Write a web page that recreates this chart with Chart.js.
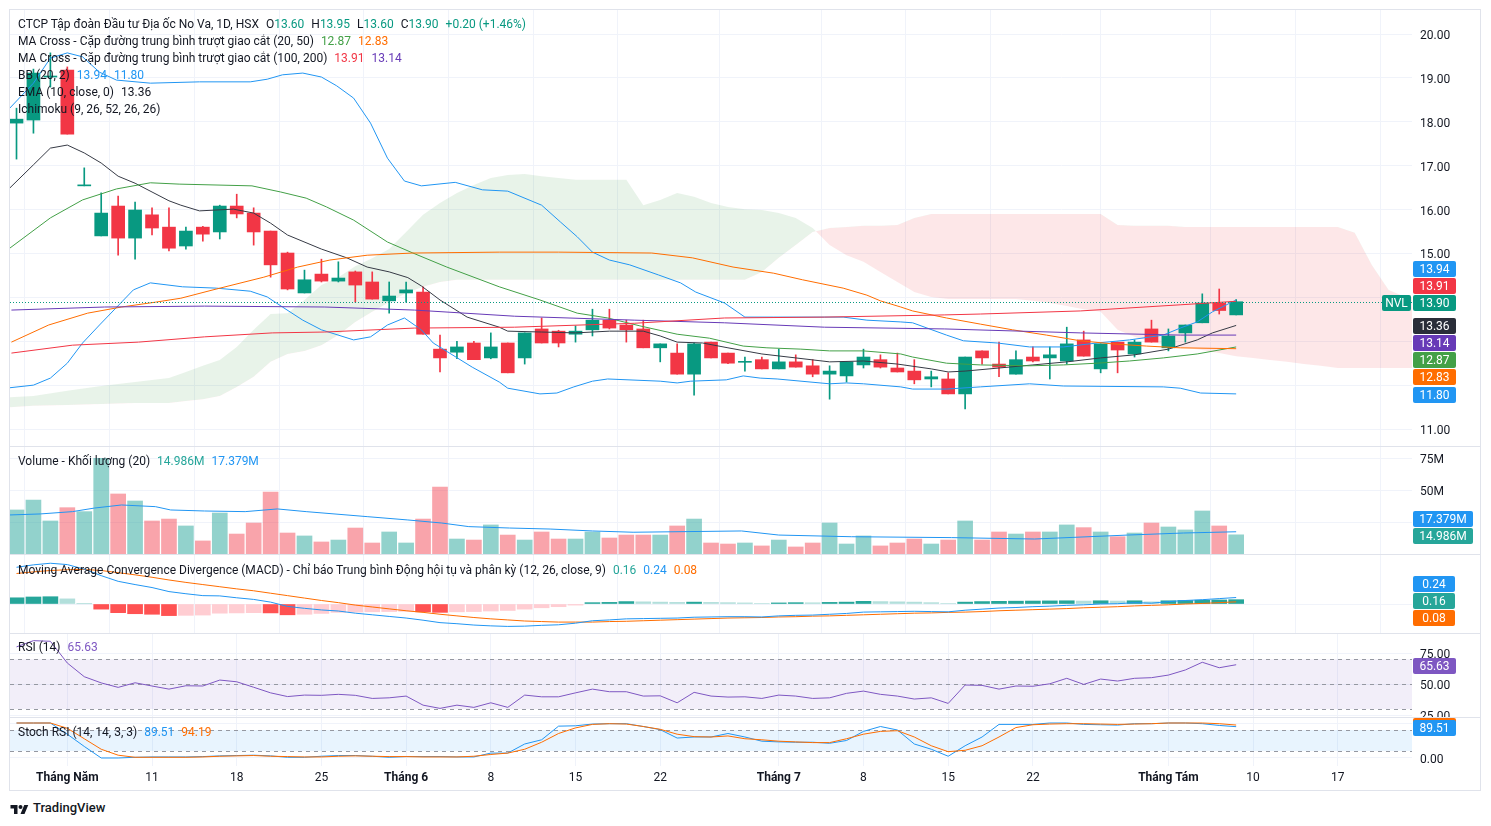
<!DOCTYPE html>
<html lang="vi"><head><meta charset="utf-8"><title>NVL 1D</title>
<script src="https://cdn.jsdelivr.net/npm/chart.js@4.4.1/dist/chart.umd.min.js"></script>
<style>
html,body{margin:0;padding:0;background:#fff}
#root{position:relative;width:1491px;height:826px;overflow:hidden;font-family:Roboto,"Liberation Sans",sans-serif;color:#131722}
#root canvas{position:absolute;left:10px}
.sep{position:absolute;left:10px;width:1471px;height:1px;background:#E0E3EB}
.lg{position:absolute;left:18px;font-size:12px;line-height:16px;white-space:nowrap;color:#131722}
.lg i{font-style:normal;margin-left:7px}
</style></head><body>
<div id="root">
 <div style="position:absolute;left:9px;top:9px;width:1470px;height:780px;border:1px solid #E0E3EB"></div>
 <div class="sep" style="top:446px"></div>
 <div class="sep" style="top:554px"></div>
 <div class="sep" style="top:633px"></div>
 <div class="sep" style="top:717px"></div>
 <canvas id="cMain" width="1471" height="436" style="top:10px"></canvas>
 <canvas id="cVol" width="1471" height="107" style="top:447px"></canvas>
 <canvas id="cMacd" width="1471" height="78" style="top:555px"></canvas>
 <canvas id="cRsi" width="1471" height="83" style="top:634px"></canvas>
 <canvas id="cStoch" width="1471" height="73" style="top:718px"></canvas>
 <svg style="position:absolute;left:10px;top:803px" width="19" height="12" viewBox="0 0 36 24"><path d="M14 22H7V11H0V4h14v18zM28 22h-8l7.5-18h8L28 22z" fill="#131722"/><circle cx="20" cy="8" r="4" fill="#131722"/></svg>
 <div style="position:absolute;left:33px;top:800px;font-size:13px;line-height:16px;font-weight:500;color:#131722">TradingView</div>
</div>
<script>
// ---------- DATA ----------
const tickIndex = [3,8,13,18,23,28,33,38,45,50,55,60,68,73,78];
const tickText  = ['Tháng Năm','11','18','25','Tháng 6','8','15','22','Tháng 7','8','15','22','Tháng Tám','10','17'];
const monthTick = [true,false,false,false,true,false,false,false,true,false,false,false,true,false,false];

const open = [17.97,18.04,19.02,19.18,16.54,15.40,16.08,15.35,15.88,15.60,
  15.17,15.60,15.49,16.08,15.92,15.51,15.01,14.10,14.53,14.37,
  14.58,14.35,13.92,14.10,14.12,12.82,12.75,12.96,12.62,12.96,
  12.62,13.28,13.23,13.16,13.26,13.48,13.37,13.28,12.85,12.73,
  12.25,12.98,12.73,12.52,12.58,12.37,12.53,12.44,12.25,12.21,
  12.46,12.58,12.39,12.32,12.14,12.14,11.80,12.78,12.48,12.25,
  12.64,12.62,12.55,13.03,12.37,12.98,12.71,13.28,12.85,13.19,
  13.42,13.87,13.60];
const high = [18.31,19.20,19.57,19.25,16.95,16.38,16.31,16.17,16.04,16.04,
  15.60,15.62,16.10,16.35,16.04,15.51,15.03,14.62,14.87,14.81,
  14.60,14.58,14.35,14.35,14.24,13.14,13.00,13.00,13.19,12.96,
  13.19,13.53,13.25,13.35,13.73,13.73,13.48,13.48,12.94,12.94,
  12.96,12.98,12.73,12.64,12.64,12.82,12.69,12.58,12.44,12.53,
  12.82,12.69,12.73,12.58,12.32,12.28,12.64,12.78,12.98,12.78,
  12.87,12.87,13.32,13.23,12.94,12.98,13.03,13.48,13.28,13.37,
  14.08,14.19,13.95];
const low = [17.15,17.74,18.79,17.72,16.54,15.40,14.96,14.87,15.42,15.06,
  15.10,15.28,15.33,15.81,15.19,14.46,14.17,14.10,14.35,14.35,
  13.89,13.96,13.64,13.89,13.16,12.30,12.60,12.58,12.60,12.28,
  12.48,12.96,12.87,12.98,13.12,13.28,12.98,12.85,12.53,12.25,
  11.77,12.62,12.49,12.32,12.37,12.37,12.41,12.19,11.68,12.07,
  12.39,12.39,12.30,12.03,11.96,11.80,11.46,12.48,12.19,12.25,
  12.53,12.14,12.48,12.66,12.28,12.28,12.64,12.98,12.78,12.98,
  13.42,13.62,13.60];
const close = [18.06,19.11,19.04,17.72,16.56,15.92,15.35,15.99,15.58,15.12,
  15.51,15.44,16.08,15.90,15.49,14.74,14.19,14.40,14.37,14.44,
  14.28,13.96,14.03,14.17,13.16,12.62,12.87,12.58,12.87,12.28,
  13.19,12.96,12.96,13.23,13.48,13.30,13.26,12.85,12.94,12.25,
  12.94,12.62,12.50,12.53,12.37,12.53,12.41,12.25,12.32,12.53,
  12.64,12.41,12.30,12.12,12.19,11.80,12.64,12.62,12.41,12.58,
  12.55,12.69,12.94,12.66,12.94,12.80,12.98,12.98,13.12,13.37,
  13.87,13.70,13.90];
const volume = [34.4,42.2,25.8,36.2,33.1,74.7,46.9,41.4,25.8,27.3,
  21.9,10.2,32.0,15.6,24.2,48.4,16.4,14.1,9.4,10.9,
  20.3,8.6,17.2,8.6,27.3,52.3,11.7,10.9,22.7,14.8,
  10.9,17.2,11.7,11.7,17.2,12.5,14.8,14.8,14.8,21.9,
  27.3,8.6,7.8,8.6,6.3,10.9,5.5,8.6,24.2,7.8,
  14.1,6.3,8.6,11.7,7.8,10.9,25.8,10.9,17.2,15.6,
  17.2,17.2,22.7,20.6,17.2,13.5,16.4,24.2,21.1,18.8,
  33.6,21.9,14.986];
const volMa = [[-0.4,30.5],[1.4,31.3],[3.3,33.1],[4.6,35.9],[6.2,38.3],[8.2,37.0],[9.1,34.4],[11.1,33.6],[13.5,33.1],[15.4,35.2],[17.1,33.1],[20.7,29.2],[23.1,26.6],[25.1,24.2],[26.7,21.4],[29.1,20.3],[31.5,19.5],[34,18.0],[36.4,17.0],[42.8,18.0],[45,14.8],[49.3,13.5],[55.2,12.8],[60.1,11.7],[65.6,14.8],[68.9,16.4],[72,17.379]];

const ema10 = [[-0.4,16.49],[1,17.02],[2,17.40],[3,17.47],[4,17.29],[5,17.06],[6,16.76],[7,16.60],[8,16.40],[9,16.20],[9.7,16.10],[10.8,15.97],[12.8,16.01],[14,15.92],[15,15.69],[16,15.42],[18,15.10],[19.5,14.90],[20.7,14.69],[22,14.58],[23.1,14.45],[23.9,14.26],[25,13.94],[26.6,13.55],[28.5,13.32],[29,13.23],[31,13.21],[33,13.19],[35,13.23],[37,13.23],[38,13.12],[39,12.98],[40.5,12.96],[42,12.85],[44,12.71],[46,12.62],[48,12.53],[50,12.55],[52,12.48],[54,12.37],[55,12.30],[56,12.32],[58,12.39],[60,12.46],[62,12.53],[64,12.62],[66,12.69],[68,12.82],[69.7,13.03],[70.6,13.19],[72,13.36]];
const bbUpper = [[-0.4,18.31],[1,18.88],[2,19.45],[3,19.57],[3.9,19.48],[4.9,19.13],[5.9,18.95],[7.9,18.88],[10.8,18.91],[13.8,18.91],[14.8,18.97],[15.7,19.07],[16.9,19.11],[18,19.02],[18.9,18.82],[19.9,18.54],[20.9,17.97],[21.9,17.17],[22.9,16.65],[23.9,16.54],[25.9,16.62],[27.5,16.45],[29,16.42],[31,16.10],[32.1,15.72],[33.1,15.38],[34,15.03],[35,14.85],[36.2,14.74],[37.9,14.51],[39.2,14.33],[40.1,14.12],[41.8,13.87],[43,13.55],[44.7,13.55],[48.8,13.55],[50.2,13.48],[52.2,13.44],[52.9,13.42],[54.9,13.14],[55.9,13.01],[57.9,12.96],[59.8,12.87],[61.8,12.87],[63.8,12.96],[65.7,13.03],[67.7,13.14],[68.7,13.30],[69.7,13.44],[70.6,13.67],[72,13.94]];
const bbLower = [[-0.4,11.94],[1,12.00],[2,12.16],[3,12.50],[3.9,12.96],[4.9,13.37],[6.9,14.17],[7.9,14.33],[9.8,14.24],[11.8,14.21],[13.8,14.14],[14.8,14.01],[15.7,13.78],[16.9,13.48],[18,13.26],[19.9,13.03],[20.9,13.10],[21.9,13.37],[22.9,13.53],[23.9,13.26],[24.6,12.96],[26.9,12.41],[28.5,12.07],[29,11.93],[30.9,11.80],[31.9,11.82],[32.9,11.96],[34,12.09],[34.9,12.14],[38,12.09],[39,12.05],[39.8,12.09],[41.9,12.12],[42.9,12.21],[43.9,12.16],[44.9,12.14],[48,12.03],[49,12.05],[50,12.03],[52.2,11.96],[52.9,11.91],[54.9,11.91],[56.9,11.96],[59.8,12.03],[61.8,11.98],[67.7,11.96],[68.7,11.93],[69.9,11.82],[72,11.80]];
const ma20 = [[-0.4,15.12],[2,15.81],[3.9,16.22],[5.9,16.47],[7.9,16.61],[9.6,16.58],[13.9,16.54],[15.6,16.40],[17.1,16.26],[18.3,16.06],[19.9,15.76],[21.9,15.26],[23.4,15.01],[25.4,14.69],[28.5,14.24],[30.9,13.94],[33.1,13.64],[34.9,13.53],[36.8,13.35],[39,13.16],[40.9,13.07],[42.9,12.89],[44.3,12.85],[46.3,12.82],[48,12.78],[50,12.78],[52.2,12.71],[52.9,12.64],[54.9,12.50],[56.9,12.46],[59.8,12.44],[61.8,12.46],[63.8,12.50],[65.7,12.55],[67.7,12.62],[69.7,12.71],[72,12.87]];
const ma50 = [[-0.3,12.98],[1.9,13.37],[4.2,13.64],[6.2,13.78],[8.2,13.89],[9.7,13.98],[11.6,14.17],[14.6,14.46],[16.6,14.69],[18.5,14.85],[20.7,14.96],[23.4,15.01],[28.5,15.03],[32,15.03],[37.5,15.01],[39.9,14.90],[42.3,14.69],[44.7,14.55],[46.4,14.40],[48.8,14.21],[50.2,14.05],[51,13.92],[52.2,13.78],[52.9,13.69],[54.9,13.53],[56.9,13.39],[58.8,13.26],[60.8,13.14],[62.8,13.01],[64.7,12.94],[66.7,12.89],[68.7,12.85],[72,12.83]];
const ma100 = [[-0.3,12.73],[3.3,12.91],[7.2,12.98],[11.1,13.10],[15.1,13.19],[18.2,13.21],[23.5,13.30],[29.4,13.32],[36.5,13.41],[41.8,13.53],[47.7,13.55],[54.8,13.60],[56.9,13.62],[62.8,13.69],[68.7,13.83],[72,13.91]];
const ma200 = [[-0.3,13.71],[5.2,13.78],[11.1,13.80],[18.2,13.78],[23.5,13.71],[29.4,13.57],[36.5,13.48],[41.8,13.42],[47.7,13.32],[54.8,13.28],[62.8,13.19],[68.7,13.14],[72,13.14]];

const cloudIdx = [-1,1,3,5,7,9,10,11,12,13,14,15,16,17,18,19,20,21,22,23,24,25,26,27,28,29,30,31,32,33,34,35,36,37,38,39,40,41,42,43,44,45,46,47,48,49,50,51,52,53,54,55,56,57,58,59,60,61,62,63,64,65,66,67,68,69,70,71,72,73,74,75,76,77,78,79,80,81,82,83];
const spanA = [11.71,11.75,11.87,11.98,12.07,12.16,
  12.30,12.44,12.57,12.87,13.26,13.62,13.64,13.94,14.28,14.46,
  14.71,14.89,15.10,15.49,15.88,16.15,16.38,16.56,16.72,16.79,
  16.81,16.76,16.72,16.68,16.68,16.68,16.68,16.10,16.22,16.38,
  16.29,16.15,16.06,16.01,15.99,15.92,15.81,15.58,15.19,14.96,
  14.81,14.58,14.35,14.12,14.01,13.96,13.96,13.96,13.96,13.96,
  13.92,13.87,13.80,13.73,13.67,13.26,13.10,12.98,12.91,12.85,
  12.80,12.73,12.66,12.62,12.57,12.53,12.48,12.44,12.39,12.39,
  12.39,12.39,12.39,12.39];
const spanB = [11.48,11.53,11.55,11.57,11.59,11.59,
  11.64,11.68,11.75,11.96,12.19,12.53,12.71,12.78,12.91,13.14,
  13.44,13.67,13.89,14.10,14.24,14.35,14.40,14.40,14.40,14.40,
  14.40,14.40,14.40,14.40,14.40,14.40,14.40,14.40,14.40,14.40,
  14.40,14.40,14.40,14.40,14.58,14.90,15.19,15.49,15.58,15.60,
  15.63,15.63,15.65,15.81,15.90,15.90,15.90,15.90,15.90,15.90,
  15.90,15.90,15.90,15.90,15.90,15.65,15.63,15.63,15.63,15.60,
  15.60,15.60,15.60,15.60,15.60,15.60,15.60,15.60,15.60,15.47,
  14.74,14.17,14.01,13.96];

const macd = [1.36,1.45,1.51,1.46,1.29,1.05,0.84,0.72,0.61,0.46,
  0.38,0.31,0.30,0.23,0.17,0.07,-0.09,-0.16,-0.22,-0.26,
  -0.34,-0.40,-0.46,-0.52,-0.60,-0.69,-0.73,-0.78,-0.81,-0.83,
  -0.82,-0.79,-0.77,-0.71,-0.62,-0.59,-0.55,-0.54,-0.53,-0.52,
  -0.49,-0.48,-0.47,-0.47,-0.48,-0.44,-0.42,-0.41,-0.38,-0.35,
  -0.30,-0.29,-0.28,-0.27,-0.28,-0.29,-0.23,-0.19,-0.15,-0.13,
  -0.10,-0.08,-0.05,-0.03,0.00,0.01,0.05,0.03,0.09,0.13,
  0.16,0.20,0.24];
const signal = [1.13,1.19,1.24,1.27,1.28,1.24,1.16,1.08,0.99,0.89,
  0.80,0.72,0.64,0.56,0.49,0.40,0.31,0.22,0.13,0.05,
  -0.04,-0.11,-0.18,-0.25,-0.31,-0.38,-0.44,-0.50,-0.55,-0.59,
  -0.63,-0.65,-0.67,-0.67,-0.67,-0.65,-0.64,-0.62,-0.60,-0.58,
  -0.56,-0.54,-0.52,-0.51,-0.50,-0.48,-0.47,-0.45,-0.44,-0.42,
  -0.40,-0.38,-0.36,-0.34,-0.33,-0.31,-0.30,-0.28,-0.25,-0.23,
  -0.21,-0.19,-0.17,-0.14,-0.12,-0.10,-0.07,-0.05,-0.03,0.00,
  0.02,0.05,0.08];
const hist = [0.23,0.26,0.27,0.19,0.01,-0.19,-0.32,-0.36,-0.38,-0.43,
  -0.42,-0.41,-0.34,-0.33,-0.32,-0.33,-0.40,-0.38,-0.35,-0.31,
  -0.30,-0.29,-0.28,-0.27,-0.29,-0.31,-0.29,-0.28,-0.26,-0.24,
  -0.19,-0.14,-0.10,-0.04,0.05,0.06,0.09,0.08,0.07,0.06,
  0.07,0.06,0.05,0.04,0.02,0.04,0.05,0.045,0.06,0.07,
  0.10,0.09,0.08,0.07,0.05,0.02,0.07,0.09,0.10,0.105,
  0.11,0.115,0.12,0.11,0.12,0.11,0.12,0.08,0.12,0.13,
  0.14,0.15,0.16];
const rsi = [80,85,84.5,67,56,51,47.4,51.1,48.5,46.0,
  48.7,48.5,53.3,51.9,47.5,43.0,40.0,41.2,41.0,41.8,
  41.0,38.5,39.0,40.4,33.1,30.5,33.1,31.3,35.0,31.3,
  41.2,39.8,39.8,43.0,46.0,43.9,43.9,40.4,40.6,35.0,
  43.4,40.4,39.6,39.8,38.5,41.2,40.4,38.5,39.0,42.6,
  44.4,41.8,40.4,38.0,39.0,34.5,49.3,49.0,46.0,48.5,
  48.3,50.3,54.7,49.8,54.1,52.5,54.7,55.2,57.3,61.4,
  67.6,63.2,65.63];
const stochK = [100,100,100,68,33,0,0,2,3,3,
  3,4,6,7,8,6,2,2,5,7,
  7,5,2,4,4,4,3,3,14,14,
  40,52,91,92,97,98,98,90,81,57,
  60,60,70,60,48,46,45,45,42,50,
  76,90,80,40,25,5,35,60,96,96,
  96,100,100,96,95,94,98,98,100,100,
  98,93,89.51];
const stochD = [100,100,100,85,55,25,8,2,2,2,
  2,3,5,6,7,5,4,3,3,5,
  6,5,4,4,3,3,3,5,10,14,
  25,45,70,86,96,98,97,90,82,68,
  61,60,63,55,52,48,46,44,44,55,
  68,76,78,60,35,18,22,35,60,87,
  95,97,98,98,97,96,97,98,100,100,
  100,98,94.19];

const priceTicks = [11,12,13,14,15,16,17,18,19,20];
const hiddenPriceTicks = [12,13,14];
const volTicks = [25,50,75];
const rsiTicks = [25,50,75];
const rsiLevels = [30,50,70];
const stochLevels = [20,80];

// ---------- STYLE / HELPERS ----------
const UP = '#089981', DOWN = '#F23645';
const FONT = 'Roboto, "Liberation Sans", sans-serif';
Chart.defaults.font.family = FONT;
Chart.defaults.font.size = 12;
Chart.defaults.color = '#131722';
const GRID = '#F0F3FA';
const X_MIN = -0.384, X_MAX = 82.38;
const L = close.length - 1;
const idx = close.map((_, i) => i);
const isUp = idx.map(i => close[i] >= open[i]);
const lastOf = a => a[a.length - 1][1];
const pairs = a => a.map(([x, y]) => ({x, y}));
const series = a => a.map((y, i) => ({x: i, y}));

function xScale(show) {
  return {
    type: 'linear', min: X_MIN, max: X_MAX, offset: false,
    grid: {color: GRID, drawTicks: false},
    border: {display: false},
    afterBuildTicks: s => { s.ticks = tickIndex.map(v => ({value: v})); },
    ticks: {display: show, autoSkip: false, maxRotation: 0, padding: 5, color: '#131722',
      font: c => ({family: FONT, size: 12, weight: monthTick[c.index] ? 'bold' : 'normal'}),
      callback: (v, k) => tickText[k]},
    afterFit: s => { s.height = show ? 25 : 0; s.paddingLeft = 0; s.paddingRight = 0; }
  };
}
function yScale(min, max, ticks, fmt) {
  return {
    position: 'right', min, max,
    afterBuildTicks: s => { s.ticks = ticks.map(v => ({value: v})); },
    grid: {color: GRID, drawTicks: false},
    border: {display: false},
    ticks: {padding: 8, labelOffset: 2, color: '#131722', font: {size: 12}, callback: fmt},
    afterFit: s => { s.width = 69; s.paddingTop = 0; s.paddingBottom = 0; }
  };
}
function baseOpts(y, showX) {
  return {
    responsive: false, animation: false, events: [],
    layout: {padding: 0},
    plugins: {legend: {display: false}, tooltip: {enabled: false}},
    scales: {x: xScale(showX), y}
  };
}
function lineDs(data, color, w) {
  return {type: 'line', data, borderColor: color, borderWidth: w || 1, pointRadius: 0,
    pointHoverRadius: 0, fill: false, tension: 0, order: 5};
}
function rr(ctx, x, y, w, h, r) {
  ctx.beginPath();
  if (ctx.roundRect) ctx.roundRect(x, y, w, h, r); else ctx.rect(x, y, w, h);
}
function boxes(items, noResolve) {
  return {id: 'boxes', afterDraw(chart) {
    const {ctx, chartArea: a, scales: {y}} = chart;
    const list = items.map(it => Object.assign({}, it, {py: y.getPixelForValue(it.value)}));
    if (!noResolve) {
      const s = list.slice().sort((p, q) => p.py - q.py);
      let ai = s.findIndex(it => it.anchor); if (ai < 0) ai = 0;
      s[ai].y = s[ai].py;
      for (let k = ai - 1; k >= 0; k--) s[k].y = Math.min(s[k].py, s[k + 1].y - 17);
      for (let k = ai + 1; k < s.length; k++) s[k].y = Math.max(s[k].py, s[k - 1].y + 17);
    } else list.forEach(it => { it.y = it.py; });
    ctx.save();
    ctx.font = '12px ' + FONT; ctx.textBaseline = 'middle'; ctx.textAlign = 'center';
    for (const it of list) {
      const w = Math.max(42, Math.ceil(ctx.measureText(it.text).width) + 12);
      const x0 = a.right + 1, yc = Math.round(it.y) + 1;
      ctx.fillStyle = it.color; rr(ctx, x0, yc - 8, w, 16, 2); ctx.fill();
      ctx.fillStyle = '#fff'; ctx.fillText(it.text, x0 + w / 2, yc + 1);
      if (it.tag) {
        const tw = 29;
        ctx.fillStyle = it.color; rr(ctx, a.right - tw - 1, yc - 8, tw, 16, 2); ctx.fill();
        ctx.fillStyle = '#fff'; ctx.fillText(it.tag, a.right - 1 - tw / 2, yc + 1);
      }
    }
    ctx.restore();
  }};
}
function bands(levels, fill) {
  return {id: 'bands', beforeDatasetsDraw(chart) {
    const {ctx, chartArea: a, scales: {y}} = chart;
    const lo = Math.min(...levels), hi = Math.max(...levels);
    const y1 = y.getPixelForValue(hi), y2 = y.getPixelForValue(lo);
    ctx.save();
    ctx.fillStyle = fill; ctx.fillRect(a.left, y1, a.right - a.left, y2 - y1);
    ctx.strokeStyle = '#9598A1'; ctx.lineWidth = 1; ctx.setLineDash([4, 4]);
    levels.forEach(v => {
      const p = Math.round(y.getPixelForValue(v)) + 0.5;
      ctx.beginPath(); ctx.moveTo(a.left, p); ctx.lineTo(a.right, p); ctx.stroke();
    });
    ctx.restore();
  }};
}
const closeLine = {id: 'closeLine', afterDatasetsDraw(chart) {
  const {ctx, chartArea: a, scales: {y}} = chart;
  const p = Math.round(y.getPixelForValue(close[L])) + 0.5;
  ctx.save(); ctx.strokeStyle = UP; ctx.lineWidth = 1; ctx.setLineDash([1, 2]);
  ctx.beginPath(); ctx.moveTo(a.left, p); ctx.lineTo(a.right, p); ctx.stroke(); ctx.restore();
}};

// ---------- MAIN PRICE PANE ----------
const candleColor = idx.map(i => isUp[i] ? UP : DOWN);
new Chart(document.getElementById('cMain'), {
  type: 'bar',
  data: {datasets: [
    {type: 'line', data: cloudIdx.map((x, k) => ({x, y: spanA[k]})), borderColor: 'transparent', borderWidth: 0,
     pointRadius: 0, tension: 0, fill: {target: 1, above: 'rgba(67,160,71,0.12)', below: 'rgba(242,54,69,0.12)'}, order: 30},
    {type: 'line', data: cloudIdx.map((x, k) => ({x, y: spanB[k]})), borderColor: 'transparent', borderWidth: 0,
     pointRadius: 0, tension: 0, fill: false, order: 30},
    {type: 'bar', data: idx.map(i => ({x: i, y: [low[i], high[i]]})), backgroundColor: candleColor,
     barThickness: 1, grouped: false, order: 20},
    {type: 'bar', data: idx.map(i => ({x: i, y: [open[i], close[i]]})), backgroundColor: candleColor,
     barThickness: 13, minBarLength: 1, grouped: false, order: 19},
    lineDs(pairs(ma100), '#F23645'),
    lineDs(pairs(ma200), '#673AB7'),
    lineDs(pairs(ma50), '#FF6D00'),
    lineDs(pairs(ma20), '#43A047'),
    lineDs(pairs(bbUpper), '#2196F3'),
    lineDs(pairs(bbLower), '#2196F3'),
    lineDs(pairs(ema10), '#363A45')
  ]},
  options: baseOpts(yScale(10.613, 20.547, priceTicks, v => hiddenPriceTicks.includes(v) ? '' : v.toFixed(2)), false),
  plugins: [closeLine, boxes([
    {value: lastOf(bbUpper), text: lastOf(bbUpper).toFixed(2), color: '#2196F3'},
    {value: lastOf(ma100), text: lastOf(ma100).toFixed(2), color: '#F23645'},
    {value: close[L], text: close[L].toFixed(2), color: UP, anchor: true, tag: 'NVL'},
    {value: lastOf(ema10), text: lastOf(ema10).toFixed(2), color: '#2A2E39'},
    {value: lastOf(ma200), text: lastOf(ma200).toFixed(2), color: '#673AB7'},
    {value: lastOf(ma20), text: lastOf(ma20).toFixed(2), color: '#43A047'},
    {value: lastOf(ma50), text: lastOf(ma50).toFixed(2), color: '#FF6D00'},
    {value: lastOf(bbLower), text: lastOf(bbLower).toFixed(2), color: '#2196F3'}
  ])]
});

// ---------- VOLUME PANE ----------
new Chart(document.getElementById('cVol'), {
  type: 'bar',
  data: {datasets: [
    {type: 'bar', data: series(volume), backgroundColor: idx.map(i => isUp[i] ? 'rgba(38,166,154,0.5)' : 'rgba(242,54,69,0.45)'),
     barThickness: 15, grouped: false, order: 10},
    lineDs(pairs(volMa), '#2196F3')
  ]},
  options: baseOpts(yScale(0, 83.6, volTicks, v => v === 25 ? '' : v + 'M'), false),
  plugins: [boxes([
    {value: lastOf(volMa), text: lastOf(volMa).toFixed(3) + 'M', color: '#2196F3'},
    {value: volume[L], text: volume[L].toFixed(3) + 'M', color: '#26A69A', anchor: true}
  ])]
});

// ---------- MACD PANE ----------
const histColor = hist.map((v, i) => {
  const p = i ? hist[i - 1] : v;
  return v >= 0 ? (v >= p ? '#26A69A' : '#B2DFDB') : (v < p ? '#FF5252' : '#FFCDD2');
});
new Chart(document.getElementById('cMacd'), {
  type: 'bar',
  data: {datasets: [
    {type: 'bar', data: series(hist), backgroundColor: histColor, barThickness: 15, grouped: false, order: 10},
    lineDs(series(macd), '#2196F3'),
    lineDs(series(signal), '#FF6D00')
  ]},
  options: baseOpts(yScale(-1.074, 1.815, [0], () => ''), false),
  plugins: [boxes([
    {value: macd[L], text: macd[L].toFixed(2), color: '#2196F3'},
    {value: hist[L], text: hist[L].toFixed(2), color: '#26A69A', anchor: true},
    {value: signal[L], text: signal[L].toFixed(2), color: '#FF6D00'}
  ])]
});

// ---------- RSI PANE ----------
new Chart(document.getElementById('cRsi'), {
  type: 'line',
  data: {datasets: [lineDs(series(rsi), '#7E57C2')]},
  options: baseOpts(yScale(23.56, 90.36, rsiTicks, v => v.toFixed(2)), false),
  plugins: [bands(rsiLevels, 'rgba(126,87,194,0.1)'), boxes([
    {value: rsi[L], text: rsi[L].toFixed(2), color: '#7E57C2', anchor: true}
  ])]
});

// ---------- STOCH RSI PANE + TIME AXIS ----------
new Chart(document.getElementById('cStoch'), {
  type: 'line',
  data: {datasets: [lineDs(series(stochD), '#FF6D00'), lineDs(series(stochK), '#2196F3')]},
  options: baseOpts(yScale(-22.9, 114.3, [0, 100], v => v === 0 ? '0.00' : ''), true),
  plugins: [bands(stochLevels, 'rgba(33,150,243,0.1)'), boxes([
    {value: stochD[L], text: stochD[L].toFixed(2), color: '#FF6D00'},
    {value: stochK[L], text: stochK[L].toFixed(2), color: '#2196F3'}
  ], true)]
});

// ---------- LEGENDS ----------
const root = document.getElementById('root');
function legend(top, html) {
  const d = document.createElement('div'); d.className = 'lg'; d.style.top = top + 'px'; d.innerHTML = html; root.appendChild(d);
}
const c = (col, t) => `<i style="color:${col}">${t}</i>`;
const chg = close[L] - close[L - 1];
legend(16, `CTCP Tập đoàn Đầu tư Địa ốc No Va, 1D, HSX` +
  `<i>O<span style="color:${UP}">${open[L].toFixed(2)}</span></i>` +
  `<i>H<span style="color:${UP}">${high[L].toFixed(2)}</span></i>` +
  `<i>L<span style="color:${UP}">${low[L].toFixed(2)}</span></i>` +
  `<i>C<span style="color:${UP}">${close[L].toFixed(2)}</span></i>` +
  c(UP, `+${chg.toFixed(2)} (+${(chg / close[L - 1] * 100).toFixed(2)}%)`));
legend(33, `MA Cross - Cặp đường trung bình trượt giao cắt (20, 50)` + c('#43A047', lastOf(ma20).toFixed(2)) + c('#FF6D00', lastOf(ma50).toFixed(2)));
legend(50, `MA Cross - Cặp đường trung bình trượt giao cắt (100, 200)` + c('#F23645', lastOf(ma100).toFixed(2)) + c('#673AB7', lastOf(ma200).toFixed(2)));
legend(67, `BB (20, 2)` + c('#2196F3', lastOf(bbUpper).toFixed(2)) + c('#2196F3', lastOf(bbLower).toFixed(2)));
legend(84, `EMA (10, close, 0)` + c('#131722', lastOf(ema10).toFixed(2)));
legend(101, `Ichimoku (9, 26, 52, 26, 26)`);
legend(453, `Volume - Khối lượng (20)` + c('#26A69A', volume[L].toFixed(3) + 'M') + c('#2196F3', lastOf(volMa).toFixed(3) + 'M'));
legend(562, `Moving Average Convergence Divergence (MACD) - Chỉ báo Trung bình Động hội tụ và phân kỳ (12, 26, close, 9)` +
  c('#26A69A', hist[L].toFixed(2)) + c('#2196F3', macd[L].toFixed(2)) + c('#FF6D00', signal[L].toFixed(2)));
legend(639, `RSI (14)` + c('#7E57C2', rsi[L].toFixed(2)));
legend(724, `Stoch RSI (14, 14, 3, 3)` + c('#2196F3', stochK[L].toFixed(2)) + c('#FF6D00', stochD[L].toFixed(2)));
</script>
</body></html>
